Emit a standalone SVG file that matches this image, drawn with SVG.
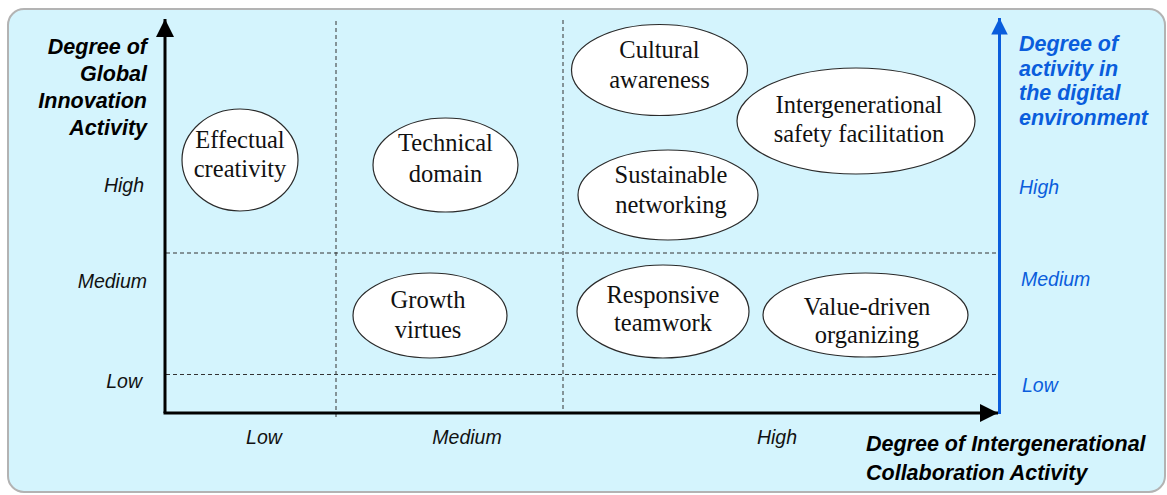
<svg xmlns="http://www.w3.org/2000/svg" width="1167" height="495" viewBox="0 0 1167 495">
<defs>
<style>
.bg{fill:#d4f4fd;stroke:#b3b3b3;stroke-width:2}
.axis{stroke:#000;stroke-width:3;fill:none}
.baxis{stroke:#0a5ddc;stroke-width:3;fill:none}
.dash{stroke:#333;stroke-width:1;stroke-dasharray:4 3;fill:none}
.node ellipse{fill:#fff;stroke:#2a2a2a;stroke-width:1.2}
.node text{font-family:"Liberation Serif",serif;font-size:24.5px;fill:#111;text-anchor:middle}
.title{font-family:"Liberation Sans",Arial,sans-serif;font-size:21.5px;font-weight:bold;font-style:italic;fill:#000}
.btitle{font-family:"Liberation Sans",Arial,sans-serif;font-size:21.5px;font-weight:bold;font-style:italic;fill:#0a5ddc}
.lvl{font-family:"Liberation Sans",Arial,sans-serif;font-size:19.5px;font-style:italic;fill:#111}
.blvl{font-family:"Liberation Sans",Arial,sans-serif;font-size:19.5px;font-style:italic;fill:#0a5ddc}
</style>
<marker id="ah" viewBox="0 0 10 10" refX="10" refY="5" markerWidth="7" markerHeight="6" markerUnits="strokeWidth" orient="auto"><path d="M0,0 L10,5 L0,10 z" fill="#000"/></marker>
<marker id="ahb" viewBox="0 0 10 10" refX="10" refY="5" markerWidth="7.5" markerHeight="5.5" markerUnits="strokeWidth" orient="auto"><path d="M0,0 L10,5 L0,10 z" fill="#0a5ddc"/></marker>
</defs>
<rect class="bg" x="8" y="9" width="1157" height="483" rx="16"/>
<g id="grid">
<line class="dash" x1="336" y1="21" x2="336" y2="420"/>
<line class="dash" x1="563" y1="20" x2="563" y2="412"/>
<line class="dash" x1="166" y1="253" x2="998" y2="253"/>
<line class="dash" x1="166" y1="374.5" x2="998" y2="374.5"/>
</g>
<g id="connectors">
<line class="axis" x1="165" y1="413" x2="165" y2="19" marker-end="url(#ah)"/>
<line class="axis" x1="163.5" y1="413" x2="998" y2="413" marker-end="url(#ah)"/>
<line class="baxis" x1="999.5" y1="414" x2="999.5" y2="18" marker-end="url(#ahb)"/>
</g>
<g id="y-title">
<text class="title" text-anchor="end" x="147" y="54">Degree of</text>
<text class="title" text-anchor="end" x="147" y="81">Global</text>
<text class="title" text-anchor="end" x="147" y="108">Innovation</text>
<text class="title" text-anchor="end" x="147" y="135">Activity</text>
</g>
<g id="y-levels">
<text class="lvl" text-anchor="end" x="144" y="192">High</text>
<text class="lvl" text-anchor="end" x="147" y="288">Medium</text>
<text class="lvl" text-anchor="end" x="142" y="388">Low</text>
</g>
<g id="x-levels">
<text class="lvl" text-anchor="middle" x="264" y="444">Low</text>
<text class="lvl" text-anchor="middle" x="467" y="444">Medium</text>
<text class="lvl" text-anchor="middle" x="777" y="444">High</text>
</g>
<g id="x-title">
<text class="title" x="866" y="451">Degree of Intergenerational</text>
<text class="title" x="866" y="480">Collaboration Activity</text>
</g>
<g id="digital-title">
<text class="btitle" x="1019" y="51">Degree of</text>
<text class="btitle" x="1019" y="75.5">activity in</text>
<text class="btitle" x="1019" y="100">the digital</text>
<text class="btitle" x="1019" y="125">environment</text>
</g>
<g id="digital-levels">
<text class="blvl" x="1019" y="194">High</text>
<text class="blvl" x="1021" y="286">Medium</text>
<text class="blvl" x="1022" y="392">Low</text>
</g>
<g id="effectual-creativity" class="node">
<ellipse cx="240" cy="160" rx="58" ry="51"/>
<text x="240" y="148">Effectual</text>
<text x="240" y="177">creativity</text>
</g>
<g id="technical-domain" class="node">
<ellipse cx="445.5" cy="165" rx="72.5" ry="47"/>
<text x="445.5" y="151">Technical</text>
<text x="445.5" y="182">domain</text>
</g>
<g id="cultural-awareness" class="node">
<ellipse cx="659.5" cy="70" rx="88" ry="45.5"/>
<text x="659.5" y="58">Cultural</text>
<text x="659.5" y="88">awareness</text>
</g>
<g id="intergenerational-safety" class="node">
<ellipse cx="856" cy="121" rx="119" ry="53"/>
<text x="859" y="113">Intergenerational</text>
<text x="859" y="142">safety facilitation</text>
</g>
<g id="sustainable-networking" class="node">
<ellipse cx="668" cy="195" rx="90" ry="45"/>
<text x="671" y="183">Sustainable</text>
<text x="671" y="213">networking</text>
</g>
<g id="growth-virtues" class="node">
<ellipse cx="430" cy="315.5" rx="77" ry="42.5"/>
<text x="428" y="308">Growth</text>
<text x="428" y="338">virtues</text>
</g>
<g id="responsive-teamwork" class="node">
<ellipse cx="663" cy="311.5" rx="86" ry="46.5"/>
<text x="663" y="303">Responsive</text>
<text x="663" y="331">teamwork</text>
</g>
<g id="value-driven-organizing" class="node">
<ellipse cx="865.5" cy="315" rx="102.5" ry="42"/>
<text x="867" y="315">Value-driven</text>
<text x="867" y="343">organizing</text>
</g>
</svg>
